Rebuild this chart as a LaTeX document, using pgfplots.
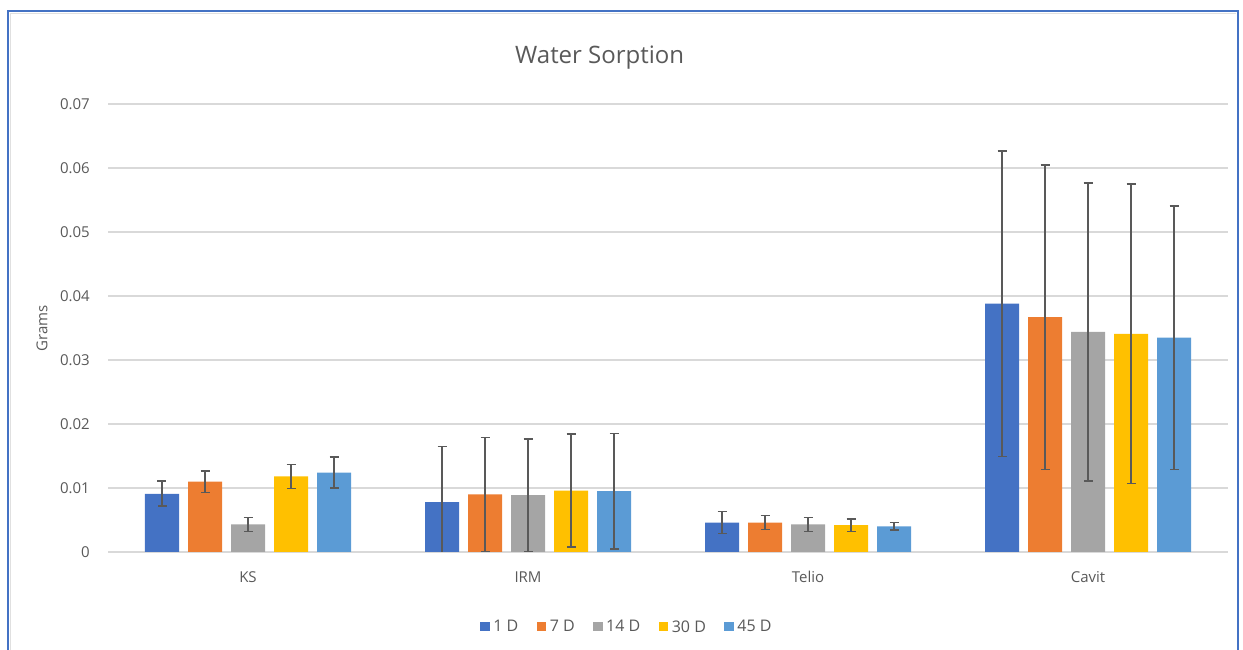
\documentclass[border=0pt]{standalone}
\usepackage{pgfplots}
\pgfplotsset{compat=1.18}
\usepackage{fontspec}
\setmainfont{Open Sans}
\definecolor{c1}{HTML}{4472C4}
\definecolor{c2}{HTML}{ED7D31}
\definecolor{c3}{HTML}{A5A5A5}
\definecolor{c4}{HTML}{FFC000}
\definecolor{c5}{HTML}{5B9BD5}
\definecolor{txt}{HTML}{595959}
\definecolor{grid}{HTML}{D9D9D9}
\definecolor{errc}{HTML}{595959}
\begin{document}
\begin{tikzpicture}
\path[use as bounding box] (0pt,0pt) rectangle (1243pt,650pt);
\draw[c1, line width=2pt] (8pt,0pt) -- (8pt,639pt) -- (1238pt,639pt) -- (1238pt,0pt);
\draw[black!12, line width=1.5pt] (10.5pt,0pt) -- (10.5pt,636.5pt) -- (1235.5pt,636.5pt);
\begin{axis}[
  at={(108pt,98pt)}, anchor=south west,
  scale only axis, width=1120pt, height=448pt,
  ybar=9pt, bar width=34pt,
  xmin=-0.5, xmax=3.5, ymin=0, ymax=0.07,
  scaled y ticks=false,
  xtick={0,1,2,3}, xticklabels={KS,IRM,Telio,Cavit},
  ytick={0,0.01,0.02,0.03,0.04,0.05,0.06,0.07},
  yticklabels={0,0.01,0.02,0.03,0.04,0.05,0.06,0.07},
  axis line style={draw=none},
  major tick length=0pt,
  ymajorgrids, major grid style={color=grid, line width=1.2pt},
  yticklabel style={font=\fontsize{15}{15}\selectfont, text=txt, inner sep=0pt, anchor=east, xshift=-18pt},
  xticklabel style={font=\fontsize{15}{15}\selectfont, text=txt, inner sep=0pt, anchor=center, yshift=-25pt},
  ylabel={Grams},
  ylabel style={font=\fontsize{15}{15}\selectfont, text=txt, at={(axis description cs:0,0.5)}, anchor=center, rotate=0, yshift=66pt, inner sep=0pt},
  title={Water Sorption},
  title style={font=\fontsize{24}{24}\selectfont, text=txt, at={(axis description cs:0.439,1)}, anchor=center, yshift=40pt, inner sep=0pt},
  legend style={at={(axis description cs:0.464,-0.1674)}, anchor=center, draw=none, fill=none,
    font=\fontsize{16}{16}\selectfont, text=txt, legend columns=-1,
    /tikz/every even column/.append style={column sep=15pt}, nodes={inner sep=3.5pt}},
  legend image code/.code={\fill[#1] (0pt,-4.5pt) rectangle (9.5pt,4.5pt);},
  error bars/y dir=both, error bars/y explicit,
  error bars/error bar style={errc, line width=1.6pt},
  error bars/error mark options={errc, rotate=90, mark size=4.5pt, line width=1.6pt},
]
\addplot[fill=c1, draw=none] coordinates {(0,0.0091) +- (0,0.00195) (1,0.0078) +- (0,0.0087) (2,0.0046) +- (0,0.0017) (3,0.0388) +- (0,0.0239)};
\addplot[fill=c2, draw=none] coordinates {(0,0.0110) +- (0,0.0017) (1,0.0090) +- (0,0.0089) (2,0.0046) +- (0,0.0011) (3,0.0367) +- (0,0.0238)};
\addplot[fill=c3, draw=none] coordinates {(0,0.0043) +- (0,0.0011) (1,0.0089) +- (0,0.0088) (2,0.0043) +- (0,0.0011) (3,0.0344) +- (0,0.0233)};
\addplot[fill=c4, draw=none] coordinates {(0,0.0118) +- (0,0.0019) (1,0.0096) +- (0,0.0088) (2,0.0042) +- (0,0.0010) (3,0.0341) +- (0,0.0234)};
\addplot[fill=c5, draw=none] coordinates {(0,0.0124) +- (0,0.0024) (1,0.0095) +- (0,0.0090) (2,0.0040) +- (0,0.0006) (3,0.0335) +- (0,0.0206)};
\legend{1 D,7 D,14 D,30 D,45 D}
\end{axis}
\end{tikzpicture}
\end{document}
